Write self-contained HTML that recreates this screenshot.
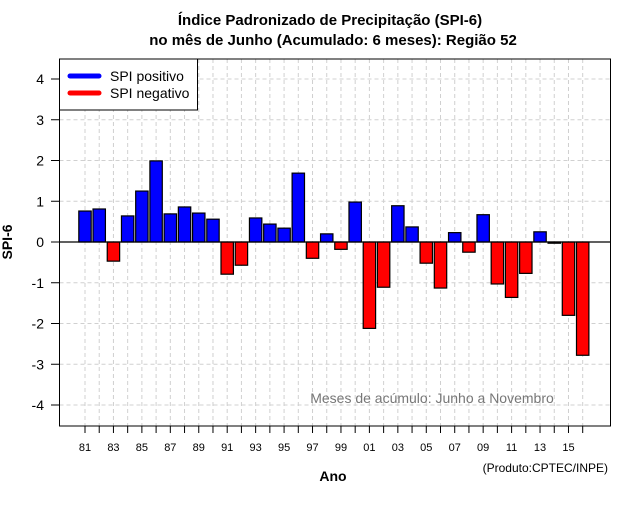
<!DOCTYPE html>
<html><head><meta charset="utf-8"><style>
body{margin:0;background:#fff;}
svg text{font-family:"Liberation Sans","DejaVu Sans",sans-serif;}
</style></head><body>
<svg id="chart" width="640" height="500" xmlns="http://www.w3.org/2000/svg">
<rect width="640" height="500" fill="#fff"/>
<text x="330" y="25" text-anchor="middle" font-size="15" font-weight="bold">Índice Padronizado de Precipitação (SPI-6)</text>
<text x="333" y="45" text-anchor="middle" font-size="15" font-weight="bold">no mês de Junho (Acumulado: 6 meses): Região 52</text>
<g id="grid"></g>
<g id="bars"></g>
<line x1="59.5" x2="610" y1="242" y2="242" stroke="#000" stroke-width="1.2"/>
<rect x="59.5" y="59" width="551" height="367" fill="none" stroke="#000"/>
<g id="axes"></g>
<text x="432" y="403" text-anchor="middle" font-size="14" fill="#777">Meses de acúmulo: Junho a Novembro</text>
<g>
<rect x="59.5" y="59" width="138" height="51" fill="#fff" stroke="#000"/>
<line x1="70" x2="99" y1="76" y2="76" stroke="#0000ff" stroke-width="5" stroke-linecap="round"/>
<text x="110" y="81" font-size="14">SPI positivo</text>
<line x1="70" x2="99" y1="93" y2="93" stroke="#ff0000" stroke-width="5" stroke-linecap="round"/>
<text x="110" y="98" font-size="14">SPI negativo</text>
</g>
<text x="333" y="481" text-anchor="middle" font-size="14" font-weight="bold">Ano</text>
<text x="12" y="242" text-anchor="middle" font-size="14" font-weight="bold" transform="rotate(-90 12 242)">SPI-6</text>
<text x="608" y="472" text-anchor="end" font-size="12">(Produto:CPTEC/INPE)</text>
</svg>
<script>
const years = [1981,1982,1983,1984,1985,1986,1987,1988,1989,1990,1991,1992,1993,1994,1995,1996,1997,1998,1999,2000,2001,2002,2003,2004,2005,2006,2007,2008,2009,2010,2011,2012,2013,2014,2015,2016];
const spiValues = [0.76,0.81,-0.47,0.64,1.25,1.99,0.69,0.86,0.71,0.56,-0.79,-0.57,0.59,0.44,0.34,1.69,-0.40,0.20,-0.18,0.98,-2.12,-1.11,0.89,0.37,-0.52,-1.13,0.23,-0.25,0.67,-1.03,-1.36,-0.77,0.25,-0.03,-1.80,-2.78];
const yTicks = [-4,-3,-2,-1,0,1,2,3,4];
const NS="http://www.w3.org/2000/svg";
const x = i => 85 + i*14.22;
const y = v => 242 - v*40.75;
function mk(tag, attrs, parent){const e=document.createElementNS(NS,tag);for(const k in attrs)e.setAttribute(k,attrs[k]);parent.appendChild(e);return e;}
const grid=document.getElementById('grid'), bars=document.getElementById('bars'), axes=document.getElementById('axes');
years.forEach((yr,i)=>{
  const g=mk('line',{x1:x(i),x2:x(i),y1:59,y2:426,stroke:'#d0d0d0','stroke-dasharray':'4,3'},grid);
  
  
  const t=mk('line',{x1:x(i),x2:x(i),y1:426,y2:433,stroke:'#000'},axes);
  
  
  if(i%2===0){
    const l=mk('text',{x:x(i),y:451,'text-anchor':'middle','font-size':'11'},axes);
    l.textContent=String(yr).slice(2);
    
    
  }
});
yTicks.forEach(v=>{
  const g=mk('line',{x1:59.5,x2:610,y1:y(v),y2:y(v),stroke:'#d0d0d0','stroke-dasharray':'4,3'},grid);
  
  
  const t=mk('line',{x1:51,x2:59.5,y1:y(v),y2:y(v),stroke:'#000'},axes);
  
  
  const l=mk('text',{x:44,y:y(v)+5,'text-anchor':'end','font-size':'14'},axes);
  l.textContent=String(v);
  
  
});
spiValues.forEach((v,i)=>{
  const top=Math.min(y(v),y(0)), h=Math.abs(y(v)-y(0));
  const r=mk('rect',{x:x(i)-6.2,y:top,width:12.4,height:Math.max(h,0.5),fill:v>=0?'#0000ff':'#ff0000',stroke:'#000','stroke-width':'1.2'},bars);
  
  
});
</script>
</body></html>
